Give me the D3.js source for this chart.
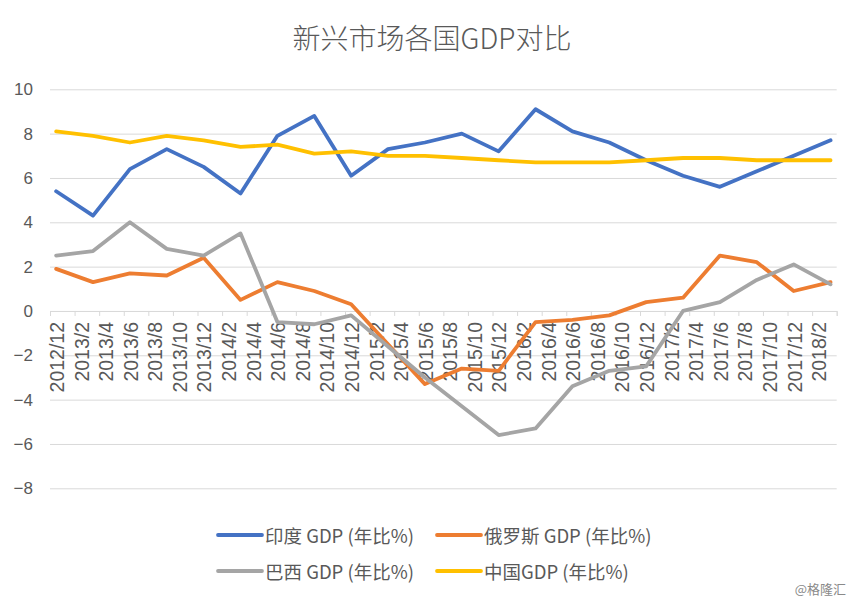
<!DOCTYPE html>
<html>
<head>
<meta charset="utf-8">
<script src="https://cdn.jsdelivr.net/npm/d3@7"></script>
<style>
  html, body { margin: 0; padding: 0; background: #fff; }
  svg { display: block; }
</style>
</head>
<body>
<svg id="chart" width="864" height="601"></svg>
<script>
// ---- data ----
const dates = ["2012/12","2013/3","2013/6","2013/9","2013/12","2014/3","2014/6","2014/9","2014/12",
  "2015/3","2015/6","2015/9","2015/12","2016/3","2016/6","2016/9","2016/12",
  "2017/3","2017/6","2017/9","2017/12","2018/3"];
const india  = [5.4,4.3,6.4,7.3,6.5,5.3,7.9,8.8,6.1,7.3,7.6,8.0,7.2,9.1,8.1,7.6,6.8,6.1,5.6,6.3,7.0,7.7];
const russia = [1.9,1.3,1.7,1.6,2.4,0.5,1.3,0.9,0.3,-1.5,-3.3,-2.6,-2.7,-0.5,-0.4,-0.2,0.4,0.6,2.5,2.2,0.9,1.3];
const brazil = [2.5,2.7,4.0,2.8,2.5,3.5,-0.5,-0.6,-0.2,-1.6,-3.0,-4.3,-5.6,-5.3,-3.4,-2.7,-2.5,0.0,0.4,1.4,2.1,1.2];
const china  = [8.1,7.9,7.6,7.9,7.7,7.4,7.5,7.1,7.2,7.0,7.0,6.9,6.8,6.7,6.7,6.7,6.8,6.9,6.9,6.8,6.8,6.8];
const seriesNames = ["印度 GDP (年比%)","俄罗斯 GDP (年比%)","巴西 GDP (年比%)","中国GDP (年比%)"];
const seriesColors = ["#4472C4","#ED7D31","#A5A5A5","#FFC000"];
const tickLabels = ["2012/12","2013/2","2013/4","2013/6","2013/8","2013/10","2013/12",
  "2014/2","2014/4","2014/6","2014/8","2014/10","2014/12",
  "2015/2","2015/4","2015/6","2015/8","2015/10","2015/12",
  "2016/2","2016/4","2016/6","2016/8","2016/10","2016/12",
  "2017/2","2017/4","2017/6","2017/8","2017/10","2017/12","2018/2"];
const yTicks = [-8,-6,-4,-2,0,2,4,6,8,10];
const title = "新兴市场各国GDP对比";
const watermark = "@格隆汇";

// ---- helpers ----
const monthIdx = s => { const [yy,m] = s.split("/").map(Number); return (yy-2012)*12 + m - 12; };
const nMonths = monthIdx("2018/3") + 1;

const svg = d3.select("#chart");
const textColor = "#595959";
const latin = "'Liberation Sans', Arial, sans-serif";
const cjk = "'Noto Sans CJK SC', 'Noto Sans', sans-serif";

const plotL = 50, plotR = 836.7, plotT = 89.3, plotB = 488.3;
const x = d3.scaleLinear().domain([0, nMonths]).range([plotL, plotR]);
const y = d3.scaleLinear().domain([-8, 10]).range([plotB, plotT]);

// title
svg.append("text").attr("x", 432).attr("y", 49).attr("text-anchor", "middle")
  .attr("font-family", cjk).attr("font-size", 28).attr("font-weight", 300)
  .attr("fill", textColor).text(title);

// y gridlines & labels
const yAxis = d3.axisLeft(y).tickValues(yTicks).tickSize(-(plotR - plotL)).tickPadding(17)
  .tickFormat(d3.format("d"));
const gy = svg.append("g").attr("transform", `translate(${plotL},0)`).call(yAxis);
gy.select(".domain").remove();
gy.selectAll(".tick line").attr("stroke", "#d9d9d9").attr("stroke-width", 1);
gy.selectAll(".tick text").attr("font-family", latin).attr("font-size", 17).attr("fill", textColor);

// x axis at zero
const xAxis = d3.axisBottom(x).tickValues(d3.range(0, nMonths + 1, 2)).tickSize(5).tickFormat("");
const gx = svg.append("g").attr("transform", `translate(0,${y(0)})`).call(xAxis);
gx.select(".domain").attr("stroke", "#d9d9d9").attr("stroke-width", 1);
gx.selectAll(".tick line").attr("stroke", "#d9d9d9");

// x labels (rotated)
svg.append("g").selectAll("text").data(tickLabels).join("text")
  .attr("transform", d => `translate(${x(monthIdx(d) + 0.5) + 1},${y(0) + 11}) rotate(-90)`)
  .attr("text-anchor", "end").attr("dy", "0.35em")
  .attr("font-family", latin).attr("font-size", 19.5).attr("fill", textColor)
  .text(d => d);

// lines
const allSeries = [india, russia, brazil, china];
const line = d3.line().x((d, i) => x(monthIdx(dates[i]) + 0.5)).y(d => y(d));
svg.append("g").selectAll("path").data(allSeries).join("path")
  .attr("d", d => line(d)).attr("fill", "none")
  .attr("stroke", (d, i) => seriesColors[i]).attr("stroke-width", 3.8)
  .attr("stroke-linejoin", "round").attr("stroke-linecap", "round");

// legend
const legendPos = [[218, 535], [437, 535], [218, 571], [437, 571]];
const lg = svg.append("g").selectAll("g").data(seriesNames).join("g")
  .attr("transform", (d, i) => `translate(${legendPos[i][0]},${legendPos[i][1]})`);
lg.append("line").attr("x1", 0).attr("x2", 44).attr("y1", 0).attr("y2", 0)
  .attr("stroke", (d, i) => seriesColors[i]).attr("stroke-width", 3.8).attr("stroke-linecap", "round");
lg.append("text").attr("x", 47).attr("y", 1).attr("dy", "0.36em")
  .attr("font-family", cjk).attr("font-size", 18.5).attr("fill", textColor).text(d => d);

// watermark
svg.append("text").attr("x", 846).attr("y", 594).attr("text-anchor", "end")
  .attr("font-family", cjk).attr("font-size", 13).attr("fill", "#8a8a8a").text(watermark);
</script>
</body>
</html>
